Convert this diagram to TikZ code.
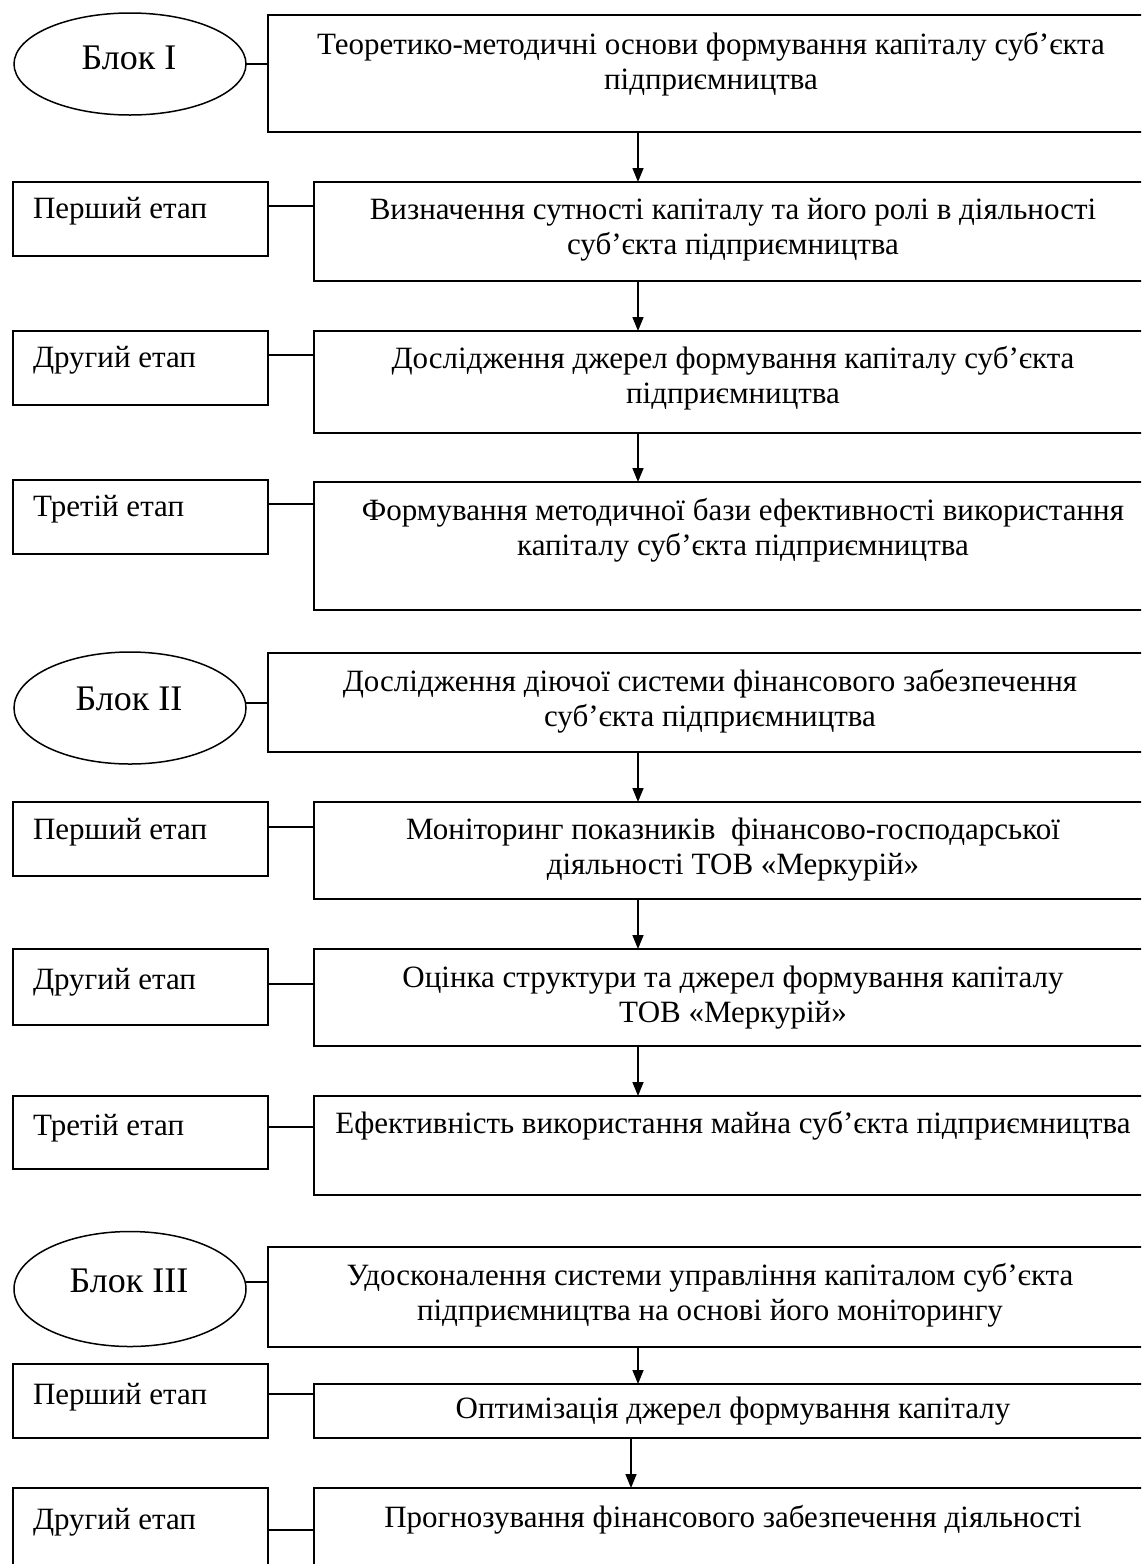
\documentclass[tikz,border=0pt]{standalone}
\usepackage{fontspec}
\setmainfont{Liberation Serif}
\usetikzlibrary{arrows.meta,shapes.geometric}
\begin{document}
\begin{tikzpicture}[x=1pt,y=-1pt,
  every node/.style={inner sep=0pt, outer sep=0pt},
  frame/.style={draw, line width=1.5pt, rectangle, anchor=north west},
  bigbox/.style={frame, minimum width=884pt},
  stagebox/.style={frame, minimum width=838pt},
  lblbox/.style={frame, minimum width=255pt, minimum height=74pt},
  blk/.style={draw, line width=1.5pt, ellipse, minimum width=232pt, minimum height=102pt},
  blktxt/.style={font=\fontsize{36}{40}\selectfont},
  txt/.style={anchor=north, align=center, font=\fontsize{31}{35}\selectfont},
  lbltxt/.style={anchor=west, font=\fontsize{31}{35}\selectfont},
  link/.style={line width=1.5pt},
  arr/.style={line width=1.5pt, -{Triangle[length=14pt,width=11pt]}}
]
\useasboundingbox (0,0) rectangle (1141,1564);
\clip (0,0) rectangle (1141,1564);
\fill[white] (0,0) rectangle (1141,1564);

% ---------- Block I ----------
\node[blk] (e1) at (130,64) {};
\node[blktxt] (bt1) at (129,58) {Блок I};
\node[bigbox, minimum height=117pt] (m1) at (268,15) {};
\node[txt] (t1) at (711,32) {Теоретико-методичні основи формування капіталу суб’єкта\\підприємництва};

\node[lblbox] (l11) at (13,182) {};
\node[lbltxt] (lt11) at (33,211) {Перший етап};
\node[stagebox, minimum height=99pt] (m11) at (314,182) {};
\node[txt] (t11) at (733,198) {Визначення сутності капіталу та його ролі в діяльності\\суб’єкта підприємництва};

\node[lblbox] (l12) at (13,331) {};
\node[lbltxt] (lt12) at (33,360) {Другий етап};
\node[stagebox, minimum height=102pt] (m12) at (314,331) {};
\node[txt] (t12) at (733,346) {Дослідження джерел формування капіталу суб’єкта\\підприємництва};

\node[lblbox] (l13) at (13,480) {};
\node[lbltxt] (lt13) at (33,509) {Третій етап};
\node[stagebox, minimum height=128pt] (m13) at (314,482) {};
\node[txt] (t13) at (743,498) {Формування методичної бази ефективності використання\\капіталу суб’єкта підприємництва};

% ---------- Block II ----------
\node[blk, minimum height=112pt] (e2) at (130,708) {};
\node[blktxt] (bt2) at (129,699) {Блок II};
\node[bigbox, minimum height=99pt] (m2) at (268,653) {};
\node[txt] (t2) at (710,669) {Дослідження діючої системи фінансового забезпечення\\суб’єкта підприємництва};

\node[lblbox] (l21) at (13,802) {};
\node[lbltxt] (lt21) at (33,832) {Перший етап};
\node[stagebox, minimum height=97pt] (m21) at (314,802) {};
\node[txt] (t21) at (733,818) {Моніторинг показників\ \ фінансово-господарської\\діяльності ТОВ «Меркурій»};

\node[lblbox, minimum height=76pt] (l22) at (13,949) {};
\node[lbltxt] (lt22) at (33,982) {Другий етап};
\node[stagebox, minimum height=97pt] (m22) at (314,949) {};
\node[txt] (t22) at (733,966) {Оцінка структури та джерел формування капіталу\\ТОВ «Меркурій»};

\node[lblbox, minimum height=73pt] (l23) at (13,1096) {};
\node[lbltxt] (lt23) at (33,1128) {Третій етап};
\node[stagebox, minimum height=99pt] (m23) at (314,1096) {};
\node[txt] (t23) at (733,1111) {Ефективність використання майна суб’єкта підприємництва};

% ---------- Block III ----------
\node[blk, minimum height=115pt] (e3) at (130,1289) {};
\node[blktxt] (bt3) at (129,1281) {Блок III};
\node[bigbox, minimum height=100pt] (m3) at (268,1247) {};
\node[txt] (t3) at (710,1263) {Удосконалення системи управління капіталом суб’єкта\\підприємництва на основі його моніторингу};

\node[lblbox] (l31) at (13,1364) {};
\node[lbltxt] (lt31) at (33,1397) {Перший етап};
\node[stagebox, minimum height=54pt] (m31) at (314,1384) {};
\node[txt] (t31) at (733,1397) {Оптимізація джерел формування капіталу};

\node[lblbox, minimum height=80pt] (l32) at (13,1488) {};
\node[lbltxt] (lt32) at (33,1522) {Другий етап};
\node[stagebox, minimum height=100pt] (m32) at (314,1488) {};
\node[txt] (t32) at (733,1505) {Прогнозування фінансового забезпечення діяльності};

% ---------- connectors ----------
\coordinate (ax) at (638,0);
\coordinate (bx) at (631,0);
\coordinate (y11) at (0,206);
\coordinate (y12) at (0,355);
\coordinate (y13) at (0,504);
\coordinate (y2) at (0,703);
\coordinate (y21) at (0,827);
\coordinate (y22) at (0,984);
\coordinate (y23) at (0,1127);
\coordinate (y3) at (0,1282);
\coordinate (y31) at (0,1394);
\coordinate (y32) at (0,1530);

\draw[link] (e1.east) -- (m1.west |- e1.east);
\draw[link] (l11.east |- y11) -- (m11.west |- y11);
\draw[link] (l12.east |- y12) -- (m12.west |- y12);
\draw[link] (l13.east |- y13) -- (m13.west |- y13);
\draw[link] (e2.east |- y2) -- (m2.west |- y2);
\draw[link] (l21.east |- y21) -- (m21.west |- y21);
\draw[link] (l22.east |- y22) -- (m22.west |- y22);
\draw[link] (l23.east |- y23) -- (m23.west |- y23);
\draw[link] (e3.east |- y3) -- (m3.west |- y3);
\draw[link] (l31.east |- y31) -- (m31.west |- y31);
\draw[link] (l32.east |- y32) -- (m32.west |- y32);

\draw[arr] (m1.south -| ax) -- (m11.north -| ax);
\draw[arr] (m11.south -| ax) -- (m12.north -| ax);
\draw[arr] (m12.south -| ax) -- (m13.north -| ax);
\draw[arr] (m2.south -| ax) -- (m21.north -| ax);
\draw[arr] (m21.south -| ax) -- (m22.north -| ax);
\draw[arr] (m22.south -| ax) -- (m23.north -| ax);
\draw[arr] (m3.south -| ax) -- (m31.north -| ax);
\draw[arr] (m31.south -| bx) -- (m32.north -| bx);
\end{tikzpicture}
\end{document}
